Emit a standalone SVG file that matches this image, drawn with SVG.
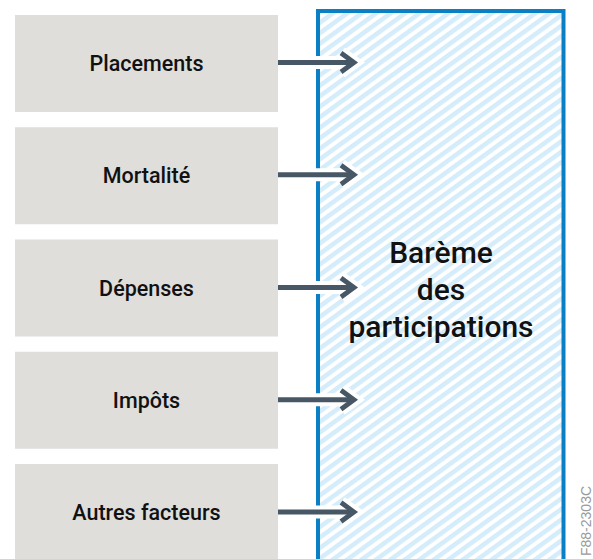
<svg xmlns="http://www.w3.org/2000/svg" width="593" height="559" viewBox="0 0 593 559">
<defs>
<pattern id="hatch" patternUnits="userSpaceOnUse" width="8.5" height="8.5" patternTransform="rotate(-36)">
<rect width="8.5" height="8.5" fill="#ffffff"/>
<rect width="8.5" height="4.6" fill="#d5edfb"/>
</pattern>
</defs>
<style>
.box{fill:#dfdedb}
.lbl{font-family:Roboto,"Liberation Sans",Arial,sans-serif;font-weight:500;font-size:21.5px;fill:#111;text-anchor:middle}
.big{font-family:Roboto,"Liberation Sans",Arial,sans-serif;font-weight:500;font-size:30px;fill:#111;text-anchor:middle}
.halo{fill:none;stroke:#ffffff;stroke-width:13}
.arr{fill:none;stroke:#475766;stroke-width:5}
.chev{fill:none;stroke:#475766;stroke-width:4.8;stroke-linejoin:miter}
.code{font-family:"Liberation Sans",Arial,sans-serif;font-size:14px;fill:#9a9a9a}
</style>
<rect width="593" height="559" fill="#ffffff"/>
<g id="bareme">
<rect x="318" y="11" width="245.5" height="560" fill="url(#hatch)" stroke="#0a7fc4" stroke-width="4"/>
<text class="big" x="441" y="263">Barème</text>
<text class="big" x="441" y="300">des</text>
<text class="big" x="441" y="337">participations</text>
</g>
<g id="placements"><rect class="box" x="15" y="15" width="263" height="97"/><text class="lbl" x="146.5" y="71">Placements</text></g>
<g id="mortalite"><rect class="box" x="15" y="127.25" width="263" height="97"/><text class="lbl" x="146.5" y="183.25">Mortalité</text></g>
<g id="depenses"><rect class="box" x="15" y="239.5" width="263" height="97"/><text class="lbl" x="146.5" y="295.5">Dépenses</text></g>
<g id="impots"><rect class="box" x="15" y="351.75" width="263" height="97"/><text class="lbl" x="146.5" y="407.75">Impôts</text></g>
<g id="autres"><rect class="box" x="15" y="464" width="263" height="97"/><text class="lbl" x="146.5" y="520">Autres facteurs</text></g>
<g id="connectors">
<g transform="translate(0,62.5)">
<path class="halo" d="M300 0H352M341 -9.5L354 0L341 9.5"/>
<path class="arr" d="M278 0H352"/><path class="chev" d="M341 -9.5L354 0L341 9.5"/>
</g>
<g transform="translate(0,174.75)">
<path class="halo" d="M300 0H352M341 -9.5L354 0L341 9.5"/>
<path class="arr" d="M278 0H352"/><path class="chev" d="M341 -9.5L354 0L341 9.5"/>
</g>
<g transform="translate(0,287.5)">
<path class="halo" d="M300 0H352M341 -9.5L354 0L341 9.5"/>
<path class="arr" d="M278 0H352"/><path class="chev" d="M341 -9.5L354 0L341 9.5"/>
</g>
<g transform="translate(0,399.75)">
<path class="halo" d="M300 0H352M341 -9.5L354 0L341 9.5"/>
<path class="arr" d="M278 0H352"/><path class="chev" d="M341 -9.5L354 0L341 9.5"/>
</g>
<g transform="translate(0,512)">
<path class="halo" d="M300 0H352M341 -9.5L354 0L341 9.5"/>
<path class="arr" d="M278 0H352"/><path class="chev" d="M341 -9.5L354 0L341 9.5"/>
</g>
</g>
<text class="code" transform="translate(591,556) rotate(-90)">F88-2303C</text>
</svg>
